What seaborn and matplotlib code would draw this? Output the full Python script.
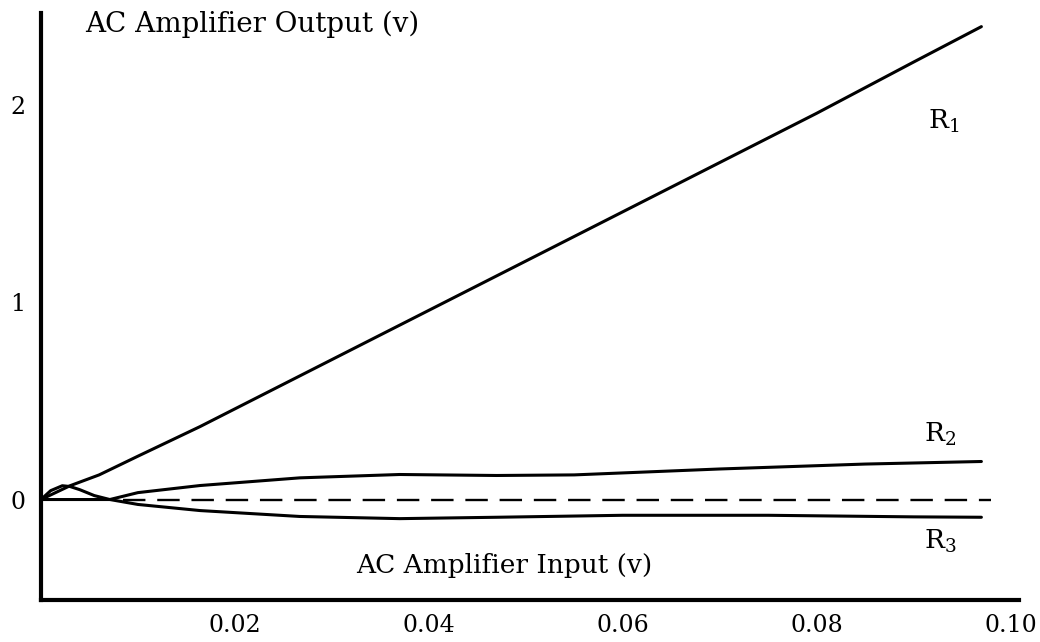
import numpy as np
import pandas as pd
import matplotlib
matplotlib.use('Agg')
import matplotlib.pyplot as plt
import seaborn as sns

# values
r1_x = [0.0, 0.003, 0.006, 0.010, 0.0164, 0.020, 0.030, 0.040, 0.050, 0.060, 0.070, 0.080, 0.090, 0.097]
r1_y = [0.0, 0.070, 0.125, 0.22, 0.37, 0.46, 0.71, 0.96, 1.21, 1.46, 1.71, 1.96, 2.22, 2.40]

r2_x = [0.0, 0.001, 0.0022, 0.003, 0.004, 0.0055, 0.0071, 0.010, 0.0164, 0.0267, 0.037, 0.047, 0.055, 0.070, 0.085, 0.097]
r2_y = [0.0, 0.045, 0.070, 0.066, 0.050, 0.020, 0.0, 0.035, 0.071, 0.110, 0.127, 0.122, 0.125, 0.155, 0.180, 0.193]

r3_x = [0.0, 0.0071, 0.010, 0.0164, 0.0267, 0.037, 0.047, 0.060, 0.075, 0.090, 0.097]
r3_y = [0.0, 0.0, -0.025, -0.056, -0.086, -0.097, -0.090, -0.080, -0.080, -0.088, -0.090]

zero_x = [0.0085, 0.098]
zero_y = [0.0, 0.0]

x_ticks = [0.02, 0.04, 0.06, 0.08, 0.10]
x_tick_labels = ['0.02', '0.04', '0.06', '0.08', '0.10']
y_ticks = [0, 1, 2]

sns.set_style('white')
plt.rcParams['font.family'] = ['DejaVu Serif']
plt.rcParams['text.color'] = 'black'
plt.rcParams['xtick.color'] = 'black'
plt.rcParams['ytick.color'] = 'black'

fig = plt.figure(figsize=(10.4, 6.42), dpi=100)
ax = fig.add_axes([0.0394, 0.0654, 0.9406, 0.9146])

sns.lineplot(x=r1_x, y=r1_y, ax=ax, color='black', lw=2.2, sort=False, estimator=None)
sns.lineplot(x=r2_x, y=r2_y, ax=ax, color='black', lw=2.2, sort=False, estimator=None)
sns.lineplot(x=r3_x, y=r3_y, ax=ax, color='black', lw=2.2, sort=False, estimator=None)
sns.lineplot(x=zero_x, y=zero_y, ax=ax, color='black', lw=1.7, sort=False, estimator=None)
ax.lines[-1].set_dashes((9.5, 5))

ax.set_xlim(0, 0.1009)
ax.set_ylim(-0.51, 2.47)
ax.set_xticks(x_ticks)
ax.set_xticklabels(x_tick_labels)
ax.set_yticks(y_ticks)
ax.tick_params(axis='x', direction='out', length=7, width=2, labelsize=17, pad=3)
ax.tick_params(axis='y', direction='out', length=5, width=2, labelsize=17, pad=6)

for s in ['top', 'right']:
    ax.spines[s].set_visible(False)
for s in ['left', 'bottom']:
    ax.spines[s].set_linewidth(3)
    ax.spines[s].set_color('black')

ax.text(0.0046, 2.41, 'AC Amplifier Output (v)', fontsize=20, va='center', ha='left')
ax.text(0.0478, -0.335, 'AC Amplifier Input (v)', fontsize=19, va='center', ha='center')

ax.text(0.0915, 1.92, r'$\mathregular{R_1}$', fontsize=19, va='center', ha='left')
ax.text(0.0911, 0.33, r'$\mathregular{R_2}$', fontsize=19, va='center', ha='left')
ax.text(0.0911, -0.21, r'$\mathregular{R_3}$', fontsize=19, va='center', ha='left')

fig.savefig('out.png', dpi=100)
